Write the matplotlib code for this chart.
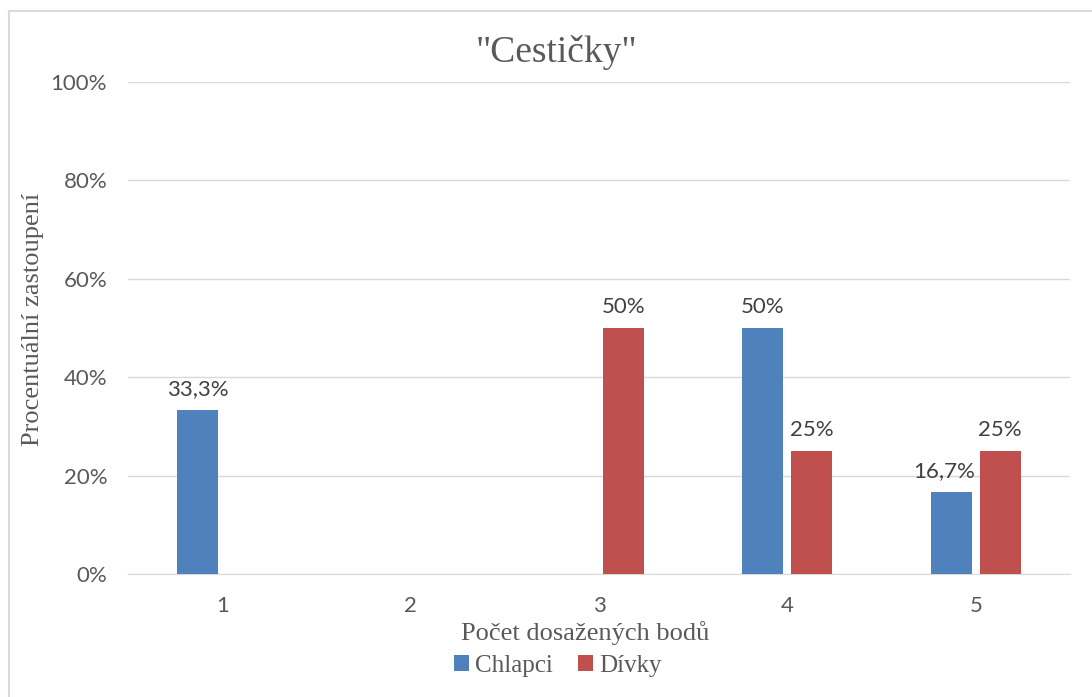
import matplotlib
matplotlib.use("Agg")
import matplotlib.pyplot as plt
from matplotlib.lines import Line2D
import numpy as np

categories = ["1", "2", "3", "4", "5"]
chlapci = [33.3, 0, 0, 50, 16.7]
divky = [0, 0, 50, 25, 25]
series_names = ["Chlapci", "Dívky"]
yticks = [0, 20, 40, 60, 80, 100]

blue = "#4F81BD"
red = "#C0504D"
text_gray = "#595959"
grid_gray = "#D9D9D9"
serif = ["Liberation Serif", "DejaVu Serif"]
sans = ["Lato", "DejaVu Sans"]

W, H = 1092, 697
fig = plt.figure(figsize=(W / 100, H / 100), dpi=100)

# chart-area frame (top and left edges)
fx0, fy0 = 8.5 / W, 1 - 10.5 / H
fig.add_artist(Line2D([fx0, 1.0], [fy0, fy0], transform=fig.transFigure,
                      color="#D9D9D9", linewidth=1.5))
fig.add_artist(Line2D([fx0, fx0], [fy0, 0.0], transform=fig.transFigure,
                      color="#D9D9D9", linewidth=1.5))

ax = fig.add_axes([128 / W, 1 - 574 / H, 942 / W, 492 / H])

x = np.arange(len(categories))
w = 0.218
off = 0.13
b1 = ax.bar(x - off, chlapci, w, color=blue, label=series_names[0], zorder=3)
b2 = ax.bar(x + off, divky, w, color=red, label=series_names[1], zorder=3)

def fmt(v):
    s = f"{v:.1f}".replace(".", ",")
    if s.endswith(",0"):
        s = s[:-2]
    return s + "%"

for i, (r1, r2) in enumerate(zip(b1, b2)):
    v1, v2 = chlapci[i], divky[i]
    if v1 > 0:
        # nudge left when the neighbouring taller bar would cover the label
        dx = -5 if (v2 > v1) else 0
        ax.annotate(fmt(v1), (r1.get_x() + r1.get_width() / 2, v1),
                    xytext=(dx, 8), textcoords="offset points",
                    ha="center", va="bottom", fontsize=16,
                    color="#404040", family=sans)
    if v2 > 0:
        ax.annotate(fmt(v2), (r2.get_x() + r2.get_width() / 2, v2),
                    xytext=(0, 8), textcoords="offset points",
                    ha="center", va="bottom", fontsize=16,
                    color="#404040", family=sans)

ax.set_xlim(-0.5, len(categories) - 0.5)
ax.set_ylim(0, 100)
ax.set_yticks(yticks)
ax.set_yticklabels([f"{t}%" for t in yticks], fontsize=16, color=text_gray, family=sans)
ax.set_xticks(x)
ax.set_xticklabels(categories, fontsize=16, color=text_gray, family=sans)
ax.tick_params(axis="x", length=0, pad=16)
ax.tick_params(axis="y", length=0, pad=15)
ax.grid(axis="y", color=grid_gray, linewidth=1, zorder=0)
for s in ["top", "right", "left"]:
    ax.spines[s].set_visible(False)
ax.spines["bottom"].set_color(grid_gray)

fig.text(556 / W, 1 - 53 / H, '"Cestičky"', fontsize=27, color=text_gray,
         family=serif, ha="center", va="center")
ax.set_xlabel("Počet dosažených bodů", fontsize=19, color=text_gray, family=serif)
ax.xaxis.set_label_coords((585 - 128) / 942, (574 - 633) / 492)
ax.xaxis.label.set_va("center")
ax.set_ylabel("Procentuální zastoupení", fontsize=19, color=text_gray, family=serif)
ax.yaxis.set_label_coords((33.5 - 128) / 942, (574 - 319) / 492)
ax.yaxis.label.set_va("center")

fig.legend(loc="center", bbox_to_anchor=(558 / W, 1 - 666 / H), ncol=2,
           frameon=False, prop={"family": serif, "size": 18},
           labelcolor=text_gray, handlelength=0.6, handleheight=0.6,
           handletextpad=0.25, columnspacing=1.0)

fig.savefig("out.png", dpi=100)
